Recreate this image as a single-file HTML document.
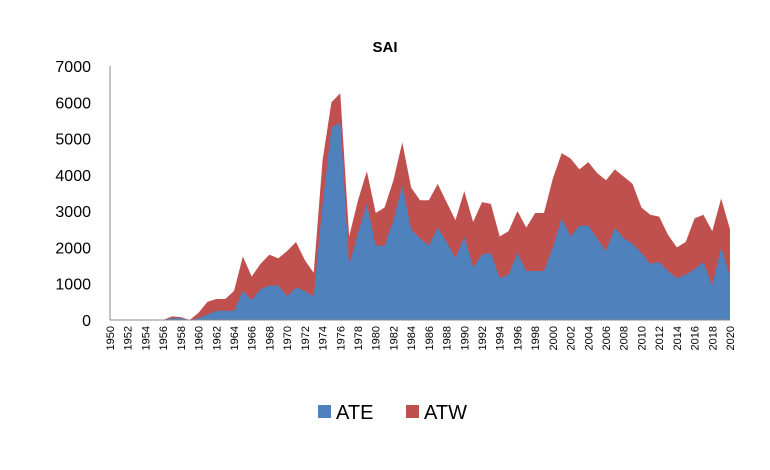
<!DOCTYPE html>
<html><head><meta charset="utf-8"><style>
body{margin:0;background:#fff;font-family:"Liberation Sans",Arial,sans-serif}
</style></head><body>
<svg id="c" width="770" height="465" xmlns="http://www.w3.org/2000/svg">
<text x="385" y="52" text-anchor="middle" font-size="15" font-weight="bold" font-family="Liberation Sans">SAI</text>
<g id="plot"></g>
<g>
<rect x="318" y="405" width="13" height="13" fill="#4f81bd"/>
<text x="336" y="419" font-size="20" font-family="Liberation Sans">ATE</text>
<rect x="406" y="405" width="13" height="13" fill="#c0504d"/>
<text x="424" y="419" font-size="20" font-family="Liberation Sans">ATW</text>
</g>
</svg>
<script>
const years=[];for(let y=1950;y<=2020;y++)years.push(y);
const ate=[0,0,0,0,0,0,0,50,50,0,50,150,250,250,250,800,550,850,950,950,650,900,800,650,3200,5300,5450,1500,2400,3200,2050,2050,2750,3700,2500,2250,2050,2550,2150,1700,2300,1450,1800,1850,1150,1250,1850,1350,1350,1350,2000,2800,2300,2600,2600,2250,1900,2550,2250,2100,1850,1550,1600,1350,1150,1250,1400,1600,950,2000,1200];
const atw=[0,0,0,0,0,0,0,50,30,0,150,350,330,330,550,950,650,700,850,750,1250,1250,850,650,1200,700,800,800,900,900,900,1050,1100,1200,1150,1050,1250,1200,1100,1050,1250,1250,1450,1350,1150,1200,1150,1200,1600,1600,1900,1800,2150,1550,1750,1800,1950,1600,1700,1650,1250,1350,1250,1000,850,900,1400,1300,1500,1350,1300];
const yTicks=[0,1000,2000,3000,4000,5000,6000,7000];
const x0=110,x1=730,yb=320,yt=66,ymax=7000;
const X=i=>x0+(x1-x0)*i/(years.length-1);
const Y=v=>yb-(yb-yt)*v/ymax;
const g=document.getElementById('plot');const NS='http://www.w3.org/2000/svg';
function mk(t,a){const e=document.createElementNS(NS,t);for(const k in a)e.setAttribute(k,a[k]);g.appendChild(e);return e;}
const totals=ate.map((v,i)=>v+atw[i]);
let d='M'+X(0)+','+Y(0);totals.forEach((v,i)=>d+=' L'+X(i)+','+Y(v));d+=' L'+X(years.length-1)+','+Y(0)+' Z';
let p=mk('path',{d:d,fill:'#c0504d'});


d='M'+X(0)+','+Y(0);ate.forEach((v,i)=>d+=' L'+X(i)+','+Y(v));d+=' L'+X(years.length-1)+','+Y(0)+' Z';
p=mk('path',{d:d,fill:'#4f81bd'});


let ax=mk('line',{x1:x0,y1:yt,x2:x0,y2:yb,stroke:'#888','stroke-width':1});


ax=mk('line',{x1:x0,y1:yb,x2:x1,y2:yb,stroke:'#888','stroke-width':1});


yTicks.forEach(v=>{const t=mk('text',{x:91,y:Y(v)+6,'text-anchor':'end','font-size':16,'font-family':'Liberation Sans'});t.textContent=v;

});
years.forEach((yr,i)=>{if(yr%2)return;const x=X(i)+4,y=326;const t=mk('text',{x:x,y:y,transform:'rotate(-90 '+x+' '+y+')','text-anchor':'end','font-size':11,'font-family':'Liberation Sans'});t.textContent=yr;

});
</script>
</body></html>
